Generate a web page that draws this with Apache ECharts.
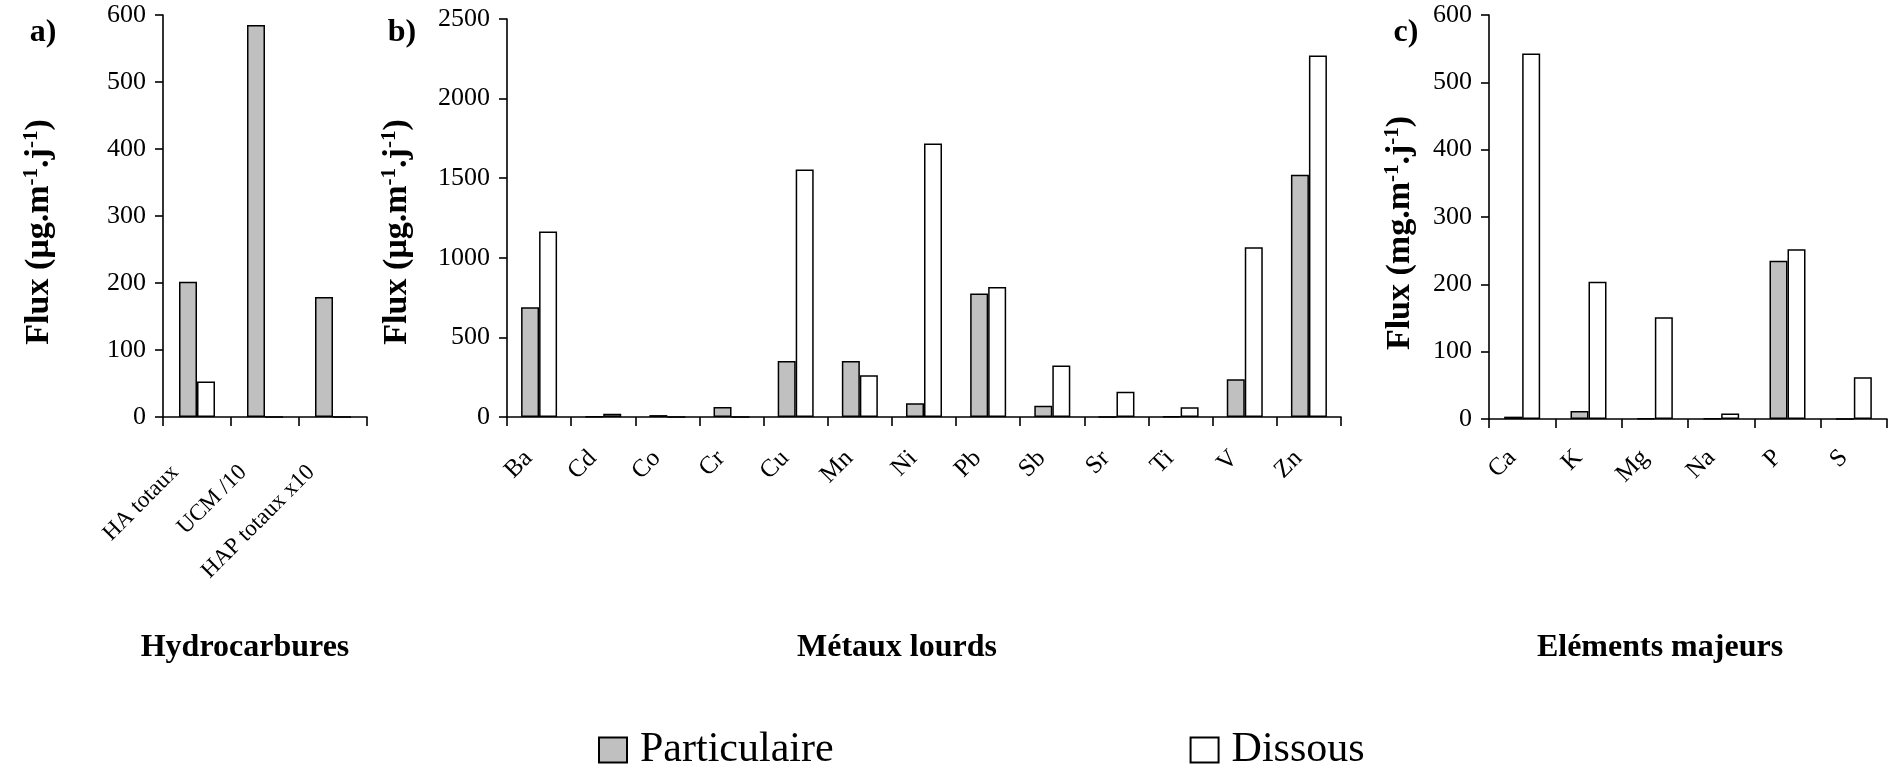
<!DOCTYPE html>
<html>
<head>
<meta charset="utf-8">
<script src="https://cdn.jsdelivr.net/npm/echarts@6/dist/echarts.min.js"></script>
<style>
html,body{margin:0;padding:0;background:#fff;}
#c{width:1894px;height:772px;}
</style>
</head>
<body>
<div id="c"></div>
<script>
// ---- data ----
const catsA = ['HA totaux', 'UCM /10', 'HAP totaux x10'];
const partA = [202, 585, 179];
const dissA = [53, 0, 0];

const catsB = ['Ba', 'Cd', 'Co', 'Cr', 'Cu', 'Mn', 'Ni', 'Pb', 'Sb', 'Sr', 'Ti', 'V', 'Zn'];
const partB = [690, 2, 12, 63, 352, 352, 86, 775, 71, 0, 3, 237, 1521];
const dissB = [1165, 21, 0, 0, 1555, 262, 1718, 817, 323, 159, 61, 1067, 2271];

const catsC = ['Ca', 'K', 'Mg', 'Na', 'P', 'S'];
const partC = [3.5, 12, 1, 1, 235, 0];
const dissC = [543, 204, 151, 8, 252, 62];

const panelTitles = ['Hydrocarbures', 'Métaux lourds', 'Eléments majeurs'];
const panelLetters = ['a)', 'b)', 'c)'];
const seriesNames = ['Particulaire', 'Dissous'];
const yUnits = ['µg', 'µg', 'mg'];
const yMaxes = [600, 2500, 600];
const yIntervals = [100, 500, 100];

// ---- styles ----
const FONT = "'Liberation Serif','Times New Roman',serif";
const GRAY = '#C0C0C0';

const grids = [
  {left: 163, top: 15, width: 204, height: 402},
  {left: 507, top: 19, width: 834, height: 398},
  {left: 1489, top: 15, width: 398, height: 404}
];
const labelCfg = [
  {margin: 30, pad: 31, size: 23},
  {margin: 27, pad: 15, size: 25},
  {margin: 25, pad: 14, size: 25}
];
const cats = [catsA, catsB, catsC];
const parts = [partA, partB, partC];
const disss = [dissA, dissB, dissC];
const titleX = [245, 897, 1660];
const letterX = [43, 402, 1406];
const yTitlePos = [[39, 232], [397, 232], [1400, 233]];

const axisLineStyle = {color: '#000', width: 1.6};

const xAxes = cats.map((c, i) => ({
  type: 'category', gridIndex: i, data: c,
  axisLine: {lineStyle: axisLineStyle},
  axisTick: {show: true, length: 9, lineStyle: axisLineStyle, alignWithLabel: false},
  axisLabel: {
    rotate: 45, interval: 0, margin: labelCfg[i].margin,
    color: '#000', fontFamily: FONT, fontSize: labelCfg[i].size,
    padding: [0, labelCfg[i].pad, 0, 0]
  },
  splitLine: {show: false}
}));

const yAxes = yMaxes.map((m, i) => ({
  type: 'value', gridIndex: i, min: 0, max: m, interval: yIntervals[i],
  axisLine: {show: true, lineStyle: axisLineStyle},
  axisTick: {show: true, length: 8, lineStyle: axisLineStyle},
  axisLabel: {color: '#000', fontFamily: FONT, fontSize: 26, margin: 17, formatter: v => String(v)},
  splitLine: {show: false}
}));

const series = [];
for (let i = 0; i < 3; i++) {
  series.push({
    name: seriesNames[0], type: 'bar', xAxisIndex: i, yAxisIndex: i,
    data: parts[i], barWidth: 18, barGap: '0%',
    itemStyle: {color: GRAY, borderColor: '#000', borderWidth: 1.5},
    emphasis: {disabled: true}, animation: false
  });
  series.push({
    name: seriesNames[1], type: 'bar', xAxisIndex: i, yAxisIndex: i,
    data: disss[i], barWidth: 18, barGap: '0%',
    itemStyle: {color: '#fff', borderColor: '#000', borderWidth: 1.5},
    emphasis: {disabled: true}, animation: false
  });
}

const graphics = [];
for (let i = 0; i < 3; i++) {
  graphics.push({
    type: 'text', x: titleX[i], y: 648,
    style: {text: panelTitles[i], fill: '#000', font: 'bold 32px ' + FONT, align: 'center', verticalAlign: 'middle'}
  });
  graphics.push({
    type: 'text', x: letterX[i], y: 33,
    style: {text: panelLetters[i], fill: '#000', font: 'bold 32px ' + FONT, align: 'center', verticalAlign: 'middle'}
  });
  graphics.push({
    type: 'text', x: yTitlePos[i][0], y: yTitlePos[i][1], rotation: Math.PI / 2,
    style: {
      text: '{t|Flux (' + yUnits[i] + '.m}{s|-1}{t|.j}{s|-1}{t|)}',
      align: 'center', verticalAlign: 'middle', fill: '#000',
      rich: {
        t: {fontFamily: FONT, fontWeight: 'bold', fontSize: 34, fill: '#000', lineHeight: 36},
        s: {fontFamily: FONT, fontWeight: 'bold', fontSize: 21, fill: '#000', verticalAlign: 'top', lineHeight: 36}
      }
    }
  });
}

const chart = echarts.init(document.getElementById('c'), null, {renderer: 'canvas'});
chart.setOption({
  animation: false,
  backgroundColor: '#fff',
  grid: grids,
  xAxis: xAxes,
  yAxis: yAxes,
  series: series,
  legend: {
    data: seriesNames,
    left: 598, top: 729,
    itemWidth: 28, itemHeight: 25, itemGap: 356,
    icon: 'rect',
    textStyle: {color: '#000', fontFamily: FONT, fontSize: 42, padding: [0, 0, 0, 8]},
    padding: 0,
    selectedMode: false
  },
  graphic: graphics
});
</script>
</body>
</html>
